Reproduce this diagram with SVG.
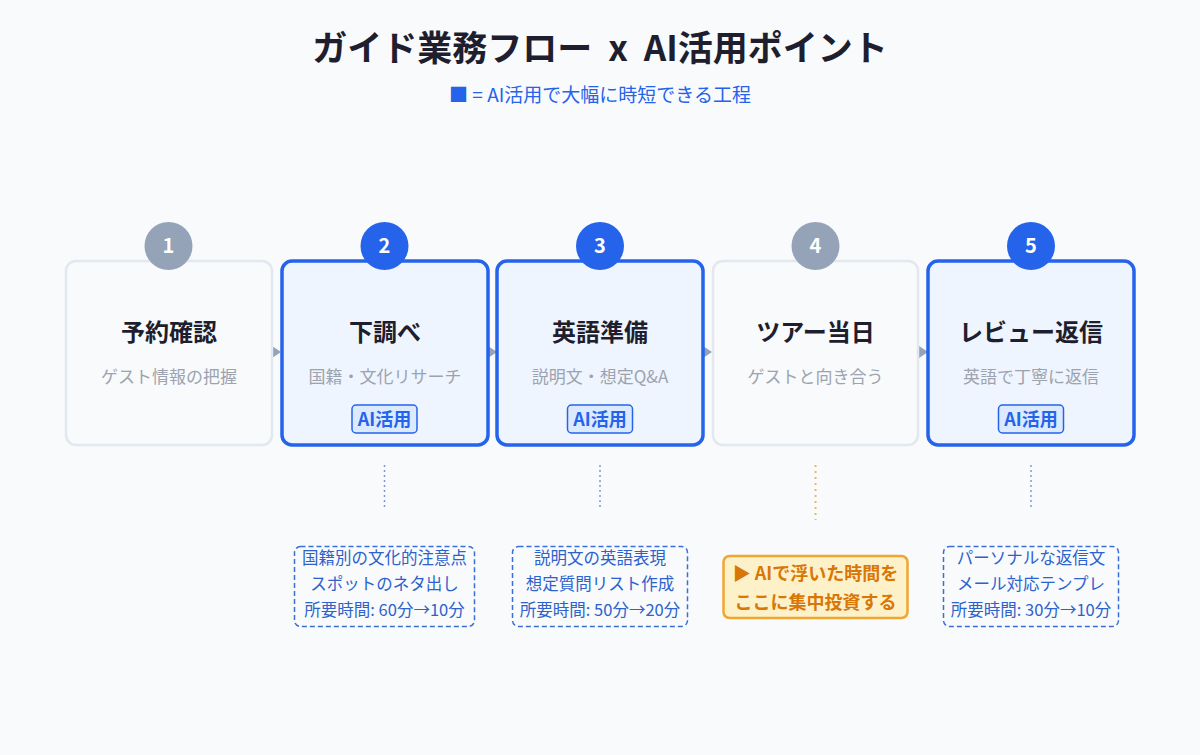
<svg xmlns="http://www.w3.org/2000/svg" width="1200" height="755" viewBox="0 0 1200 755">
<defs>
<style>
text{font-family:"Noto Sans CJK JP","Noto Sans",sans-serif;text-anchor:middle}
.title{font-size:35px;font-weight:700;fill:#1e1e2e}
.sub{font-size:19px;fill:#2563eb}
.box{fill:#f8fafc;stroke:#e2e8f0;stroke-width:2.5}
.boxai{fill:#eff5fe;stroke:#2563eb;stroke-width:3.5}
.num{fill:#94a3b8}
.numai{fill:#2563eb}
.numt{font-size:20px;font-weight:700;fill:#ffffff}
.ntitle{font-size:24px;font-weight:700;fill:#1e1e2e}
.nsub{font-size:17px;fill:#9ca3af}
.badge{fill:#dbeafe;stroke:#2563eb;stroke-width:1.5}
.badget{font-size:18px;font-weight:700;fill:#2563eb}
.note{fill:#f8fafc;stroke:#3b6fd8;stroke-width:1.5;stroke-dasharray:5,3}
.notet{font-size:16.5px;fill:#2d62cc}
.dot{stroke:#7d9ad6;stroke-width:1.5;stroke-dasharray:2,3}
.doto{stroke:#f4b860;stroke-width:2;stroke-dasharray:2,4}
.arr{fill:#94a3b8}
</style>
</defs>
<rect width="1200" height="755" fill="#f8fafc"/>
<g id="header">
<text class="title" x="600" y="61" xml:space="preserve">ガイド業務フロー  x  AI活用ポイント</text>
<text class="sub" x="600" y="102">■ = AI活用で大幅に時短できる工程</text>
</g>
<g id="connectors">
<polygon class="arr" points="272,346 281,352 272,358"/>
<polygon class="arr" points="488,346 497,352 488,358"/>
<polygon class="arr" points="703,346 712,352 703,358"/>
<polygon class="arr" points="919,346 928,352 919,358"/>
<line class="dot" x1="384.5" y1="465" x2="384.5" y2="510"/>
<line class="dot" x1="600" y1="465" x2="600" y2="510"/>
<line class="doto" x1="815.5" y1="465" x2="815.5" y2="520"/>
<line class="dot" x1="1031" y1="465" x2="1031" y2="510"/>
</g>
<g id="step1">
<rect class="box" x="66" y="261" width="206" height="184" rx="10"/>
<circle class="num" cx="168.5" cy="246" r="24"/>
<text class="numt" x="168.5" y="253">1</text>
<text class="ntitle" x="169" y="341">予約確認</text>
<text class="nsub" x="169" y="383">ゲスト情報の把握</text>
</g>
<g id="step2">
<rect class="boxai" x="282" y="261" width="206" height="184" rx="10"/>
<circle class="numai" cx="384.5" cy="246" r="24"/>
<text class="numt" x="384.5" y="253">2</text>
<text class="ntitle" x="385" y="341">下調べ</text>
<text class="nsub" x="385" y="383">国籍・文化リサーチ</text>
<rect class="badge" x="352" y="405" width="65" height="28" rx="4"/>
<text class="badget" x="384.5" y="425.5">AI活用</text>
</g>
<g id="step3">
<rect class="boxai" x="497" y="261" width="206" height="184" rx="10"/>
<circle class="numai" cx="600" cy="246" r="24"/>
<text class="numt" x="600" y="253">3</text>
<text class="ntitle" x="600" y="341">英語準備</text>
<text class="nsub" x="600" y="383">説明文・想定Q&amp;A</text>
<rect class="badge" x="567.5" y="405" width="65" height="28" rx="4"/>
<text class="badget" x="600" y="425.5">AI活用</text>
</g>
<g id="step4">
<rect class="box" x="713" y="261" width="205" height="184" rx="10"/>
<circle class="num" cx="815.5" cy="246" r="24"/>
<text class="numt" x="815.5" y="253">4</text>
<text class="ntitle" x="815.5" y="341">ツアー当日</text>
<text class="nsub" x="815.5" y="383">ゲストと向き合う</text>
</g>
<g id="step5">
<rect class="boxai" x="928" y="261" width="206" height="184" rx="10"/>
<circle class="numai" cx="1031" cy="246" r="24"/>
<text class="numt" x="1031" y="253">5</text>
<text class="ntitle" x="1031" y="341">レビュー返信</text>
<text class="nsub" x="1031" y="383">英語で丁寧に返信</text>
<rect class="badge" x="998.5" y="405" width="65" height="28" rx="4"/>
<text class="badget" x="1031" y="425.5">AI活用</text>
</g>
<g id="note2">
<rect class="note" x="294.5" y="546.5" width="180" height="80" rx="6"/>
<text class="notet" x="384.5" y="564">国籍別の文化的注意点</text>
<text class="notet" x="384.5" y="590">スポットのネタ出し</text>
<text class="notet" x="384.5" y="616">所要時間: 60分→10分</text>
</g>
<g id="note3">
<rect class="note" x="512.5" y="546.5" width="175" height="80" rx="6"/>
<text class="notet" x="600" y="564">説明文の英語表現</text>
<text class="notet" x="600" y="590">想定質問リスト作成</text>
<text class="notet" x="600" y="616">所要時間: 50分→20分</text>
</g>
<g id="note4">
<rect x="723.5" y="556" width="184" height="62" rx="6" fill="#fdf1c9" stroke="#f0a630" stroke-width="2.5"/>
<text x="815.5" y="580" font-size="18" font-weight="700" fill="#d97706">▶ AIで浮いた時間を</text>
<text x="815.5" y="609" font-size="18" font-weight="700" fill="#d97706">ここに集中投資する</text>
</g>
<g id="note5">
<rect class="note" x="943.5" y="546.5" width="175" height="80" rx="6"/>
<text class="notet" x="1031" y="564">パーソナルな返信文</text>
<text class="notet" x="1031" y="590">メール対応テンプレ</text>
<text class="notet" x="1031" y="616">所要時間: 30分→10分</text>
</g>
</svg>
